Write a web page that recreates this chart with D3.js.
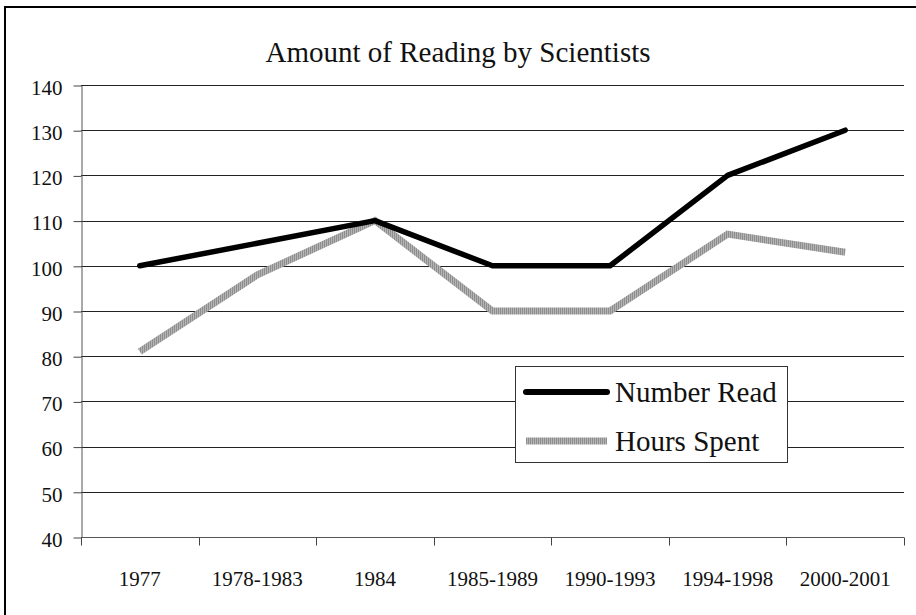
<!DOCTYPE html>
<html>
<head>
<meta charset="utf-8">
<script src="https://cdn.jsdelivr.net/npm/d3@7"></script>
</head>
<body style="margin:0">
<svg id="chart" width="916" height="615"></svg>
<script>
// Reading survey data, one value per period
const categories = ["1977", "1978-1983", "1984", "1985-1989", "1990-1993", "1994-1998", "2000-2001"];
const numberRead = [100, 105, 110, 100, 100, 120, 130];
const hoursSpent = [81, 98, 110, 90, 90, 107, 103];
const yTicks = [40, 50, 60, 70, 80, 90, 100, 110, 120, 130, 140];
const seriesNames = ["Number Read", "Hours Spent"];
const titleText = "Amount of Reading by Scientists";

const setFont = (sel, size) => sel
  .style("font-family", `"Liberation Serif"`)
  .style("font-size", `${size}px`)
  .style("fill", "#111");

const svg = d3.select("#chart");
const plot = { left: 81, right: 904, top: 85, bottom: 537 };

// Striped fill used for the grey series
const defs = svg.append("defs");
const pat = defs.append("pattern")
  .attr("id", "stripes").attr("patternUnits", "userSpaceOnUse")
  .attr("width", 2).attr("height", 4);
pat.append("rect").attr("width", 2).attr("height", 4).attr("fill", "#b4b4b4");
pat.append("rect").attr("width", 1).attr("height", 4).attr("fill", "#8e8e8e");

// Frame (left and top edges)
svg.append("line").attr("x1", 5).attr("x2", 5).attr("y1", 6).attr("y2", 615)
  .attr("stroke", "#000").attr("stroke-width", 2);
svg.append("line").attr("x1", 4).attr("x2", 916).attr("y1", 7).attr("y2", 7)
  .attr("stroke", "#000").attr("stroke-width", 2);

const x = d3.scaleBand().domain(categories).range([plot.left, plot.right]).padding(0);
const y = d3.scaleLinear().domain([40, 140]).range([plot.bottom, plot.top]);
const cx = d => x(d) + x.bandwidth() / 2;

// Horizontal gridlines
svg.append("g").selectAll("line").data(yTicks.filter(t => t > 40)).join("line")
  .attr("x1", plot.left).attr("x2", plot.right)
  .attr("y1", d => Math.round(y(d)) + 0.5).attr("y2", d => Math.round(y(d)) + 0.5)
  .attr("stroke", "#222").attr("stroke-width", 1);

// Y axis
const yAxis = svg.append("g")
  .attr("transform", `translate(${plot.left + 0.5},0.5)`)
  .call(d3.axisLeft(y).tickValues(yTicks).tickSize(8).tickPadding(11).tickSizeOuter(0));
yAxis.attr("font-family", null).attr("font-size", null);
yAxis.select(".domain").attr("stroke", "#555");
yAxis.selectAll(".tick line").attr("stroke", "#444");
setFont(yAxis.selectAll(".tick text"), 21).attr("dy", "0.42em");

// X axis: ticks at category boundaries, labels at centres
const xAxisG = svg.append("g").attr("transform", `translate(0,${Math.round(plot.bottom) + 0.5})`);
xAxisG.append("line").attr("x1", plot.left).attr("x2", plot.right)
  .attr("stroke", "#555");
const bounds = categories.map(c => x(c)).concat([plot.right]);
xAxisG.selectAll("line.tk").data(bounds).join("line").attr("class", "tk")
  .attr("x1", d => Math.round(d) + 0.5).attr("x2", d => Math.round(d) + 0.5)
  .attr("y1", 0).attr("y2", 8).attr("stroke", "#444");
setFont(xAxisG.selectAll("text.lbl").data(categories).join("text").attr("class", "lbl")
  .attr("x", d => cx(d)).attr("y", 48)
  .attr("text-anchor", "middle"), 21)
  .text(d => d);

// Series lines
const line = d3.line().x((d, i) => cx(categories[i])).y(d => y(d));
svg.append("path").datum(hoursSpent).attr("d", line)
  .attr("fill", "none").attr("stroke", "url(#stripes)").attr("stroke-width", 7)
  .attr("stroke-linejoin", "miter");
svg.append("path").datum(numberRead).attr("d", line)
  .attr("fill", "none").attr("stroke", "#000").attr("stroke-width", 5.5)
  .attr("stroke-linejoin", "round").attr("stroke-linecap", "round");

// Title
setFont(svg.append("text").attr("x", 458).attr("y", 62).attr("text-anchor", "middle"), 29)
  .text(titleText);

// Legend
const lg = svg.append("g");
lg.append("rect").attr("x", 515.5).attr("y", 366.5).attr("width", 272).attr("height", 96)
  .attr("fill", "#fff").attr("stroke", "#333").attr("stroke-width", 1);
const legendRows = [
  { name: seriesNames[0], stroke: "#000", w: 6, cap: "round", yy: 392 },
  { name: seriesNames[1], stroke: "url(#stripes)", w: 7, cap: "butt", yy: 441 }
];
legendRows.forEach(r => {
  lg.append("line").attr("x1", 526).attr("x2", 607).attr("y1", r.yy).attr("y2", r.yy)
    .attr("stroke", r.stroke).attr("stroke-width", r.w).attr("stroke-linecap", r.cap);
  setFont(lg.append("text").attr("x", 615).attr("y", r.yy + 10), 29).text(r.name);
});
</script>
</body>
</html>
